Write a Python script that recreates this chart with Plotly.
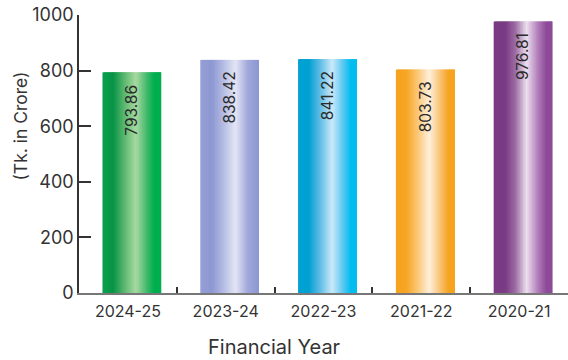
import plotly.graph_objects as go

# ---- data ----
years = ["2024-25", "2023-24", "2022-23", "2021-22", "2020-21"]
values = [793.86, 838.42, 841.22, 803.73, 976.81]
labels = ["793.86", "838.42", "841.22", "803.73", "976.81"]
y_ticks = [0, 200, 400, 600, 800, 1000]

# ---- style: gradient stops per bar (position across bar width, colour) ----
stops = [
    [(0.0, "#0aa04c"), (0.18, "#089447"), (0.38, "#5db970"), (0.57, "#a8d9a2"), (0.76, "#40b96a"), (0.88, "#00ae50"), (1.0, "#00ae50")],
    [(0.0, "#959fd5"), (0.2, "#8e98d2"), (0.4, "#b6bde4"), (0.6, "#e4e6f5"), (0.8, "#a2aadb"), (1.0, "#8c96d2")],
    [(0.0, "#00a2d3"), (0.18, "#00a0d2"), (0.38, "#62bde6"), (0.58, "#cbe9fa"), (0.76, "#5ec9f0"), (0.9, "#00bdf0"), (1.0, "#00bdf0")],
    [(0.0, "#f6a31d"), (0.18, "#f6a625"), (0.38, "#fbc97b"), (0.57, "#fff0dc"), (0.76, "#f9c171"), (0.9, "#f6a31e"), (1.0, "#f6a31e")],
    [(0.0, "#7a3b84"), (0.2, "#7a3b84"), (0.37, "#9c6ca4"), (0.56, "#eddfee"), (0.76, "#b07cb8"), (0.9, "#8d4a9a"), (1.0, "#8d4a9a")],
]


def hex2rgb(h):
    h = h.lstrip("#")
    return tuple(int(h[i:i + 2], 16) for i in (0, 2, 4))


def interp(st, t):
    for (p0, c0), (p1, c1) in zip(st[:-1], st[1:]):
        if p0 <= t <= p1:
            f = 0 if p1 == p0 else (t - p0) / (p1 - p0)
            a, b = hex2rgb(c0), hex2rgb(c1)
            r = [round(a[k] + (b[k] - a[k]) * f) for k in range(3)]
            return "rgb(%d,%d,%d)" % tuple(r)
    return st[-1][1]


BAR_W = 0.6
SHIFT = 0.04
N = 40
sw = BAR_W / N
FONT = "Inter, Roboto, sans-serif"

fig = go.Figure()
for i in range(N):
    t = (i + 0.5) / N
    w = sw * 2 if i < N - 1 else sw
    fig.add_trace(go.Bar(
        x=years, y=values,
        width=w,
        offset=-BAR_W / 2 + SHIFT + i * sw,
        marker=dict(color=[interp(s, t) for s in stops], line=dict(width=0)),
        hoverinfo="skip",
        showlegend=False,
    ))

for yr, v, lab in zip(years, values, labels):
    fig.add_annotation(
        x=yr, y=v, xref="x", yref="y",
        text=lab, textangle=-90, showarrow=False,
        yanchor="top", xanchor="center", yshift=-10, xshift=4,
        font=dict(family=FONT, size=15.5, color="#2b2b2b"),
    )

fig.add_annotation(
    x=-0.12, y=0.6, xref="paper", yref="paper", showarrow=False,
    text="(Tk. in Crore)", textangle=-90,
    font=dict(family=FONT, size=17.5, color="#333333"),
    xanchor="center", yanchor="middle",
)
fig.add_annotation(
    x=0.4, y=-0.195, xref="paper", yref="paper", showarrow=False,
    text="Financial Year",
    font=dict(family=FONT, size=20, color="#333333"),
    xanchor="center", yanchor="middle",
)

fig.update_layout(
    width=568, height=360,
    margin=dict(l=79, r=0, t=15, b=67),
    paper_bgcolor="white", plot_bgcolor="white",
    barmode="overlay",
    font=dict(family=FONT, color="#333333"),
    xaxis=dict(
        type="category",
        showline=True, linecolor="#777777", linewidth=1.5,
        ticks="inside", tickson="boundaries", ticklen=6, tickcolor="#333333", tickwidth=1.5,
        tickfont=dict(size=16, color="#333333"),
        ticklabelstandoff=3,
        showgrid=False, zeroline=False,
    ),
    yaxis=dict(
        range=[0, 1000], tickvals=y_ticks,
        showline=True, linecolor="#333333", linewidth=1.5,
        ticks="inside", ticklen=12, tickcolor="#333333", tickwidth=1.5,
        tickfont=dict(size=18, color="#333333"),
        showgrid=False, zeroline=False,
    ),
)

fig.write_html("out.html")
